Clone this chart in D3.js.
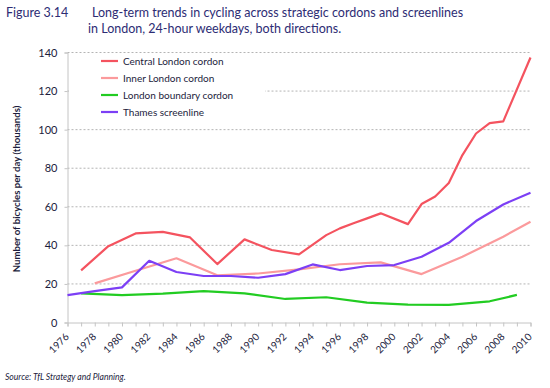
<!DOCTYPE html>
<html>
<head>
  <meta charset="utf-8">
  <script src="https://d3js.org/d3.v7.min.js"></script>
  <style>
    body { margin: 0; background: #fff; }
    text { font-family: Lato, "Open Sans", sans-serif; }
  </style>
</head>
<body>
<div id="vis"></div>

<script>
// chart data (thousands of bicycles per day)
const yearTicks = d3.range(1976, 2011, 2);
const yTicks = [0, 20, 40, 60, 80, 100, 120, 140];

const seriesNames = ["Central London cordon", "Inner London cordon", "London boundary cordon", "Thames screenline"];
const seriesColors = ["#f4535f", "#fb9a9c", "#22cc22", "#7c3ff5"];

const centralYears = [1977, 1979, 1981, 1983, 1985, 1987, 1989, 1991, 1993, 1995, 1996, 1997, 1998, 1999, 2001, 2002, 2003, 2004, 2005, 2006, 2007, 2008, 2010];
const centralValues = [27, 39.6, 46.2, 47, 44.1, 30.3, 43.1, 37.6, 35.3, 45.3, 48.8, 51.5, 54, 56.6, 51, 61.4, 65.3, 72.3, 86.8, 98, 103.4, 104.3, 137.4];

const innerYears = [1978, 1981, 1984, 1987, 1990, 1993, 1996, 1999, 2002, 2005, 2008, 2010];
const innerValues = [20.3, 26.8, 33.3, 24.5, 25.4, 27.5, 30.2, 31.2, 25.1, 34.1, 44.5, 52.2];

const boundaryYears = [1977, 1980, 1983, 1986, 1989, 1992, 1995, 1998, 2001, 2004, 2007, 2009];
const boundaryValues = [15.1, 14.2, 15, 16.3, 15.1, 12.2, 13.1, 10.3, 9.3, 9.1, 11, 14.3];

const thamesYears = [1976, 1978, 1980, 1982, 1984, 1986, 1988, 1990, 1992, 1994, 1996, 1998, 2000, 2002, 2004, 2006, 2008, 2010];
const thamesValues = [14.2, 16.3, 18.2, 32, 26.2, 24.1, 24.1, 23.2, 25.1, 30.1, 27.2, 29.3, 29.8, 34.1, 41.3, 52.6, 61.2, 67.3];

const width = 550;
const height = 388;
const titleColor = "#2d2c74";
const textColor = "#1c1c3c";

const svg = d3.select("#vis")
  .append("svg")
  .attr("width", width)
  .attr("height", height);

svg.append("rect").attr("width", width).attr("height", height).attr("fill", "#fff");

const x = d3.scaleLinear().domain([1976, 2010]).range([67.5, 530.5]);
const y = d3.scaleLinear().domain([0, 140]).range([322.5, 52.5]);

// title
svg.append("text").attr("x", 6).attr("y", 17)
  .attr("fill", titleColor).style("font-size", "12.5px")
  .text("Figure 3.14");
svg.append("text").attr("x", 92).attr("y", 17)
  .attr("fill", titleColor).style("font-size", "12.5px")
  .text("Long-term trends in cycling across strategic cordons and screenlines");
svg.append("text").attr("x", 88).attr("y", 33)
  .attr("fill", titleColor).style("font-size", "12.5px")
  .text("in London, 24-hour weekdays, both directions.");

// dotted gridlines
svg.append("g")
  .selectAll("line")
  .data(yTicks.filter(d => d > 0))
  .join("line")
  .attr("x1", x(1976)).attr("x2", x(2010))
  .attr("y1", d => y(d)).attr("y2", d => y(d))
  .attr("stroke", "#b4b4b4")
  .attr("stroke-dasharray", "2,2");

// y axis
const yAxis = svg.append("g")
  .attr("transform", `translate(${x(1976)},0)`)
  .call(d3.axisLeft(y).tickValues(yTicks).tickSize(3).tickPadding(7));
yAxis.select(".domain").attr("stroke", "#c4c4c4");
yAxis.selectAll(".tick line").attr("stroke", "#c4c4c4");
yAxis.selectAll("text").attr("fill", textColor).style("font-size", "11px")
  .style("font-family", "Lato, sans-serif");

// x axis, a tick every year, a label every two years
const xAxis = svg.append("g")
  .attr("transform", `translate(0,${y(0)})`)
  .call(d3.axisBottom(x).tickValues(d3.range(1976, 2011)).tickSize(4).tickFormat(""));
xAxis.select(".domain").attr("stroke", "#c4c4c4");
xAxis.selectAll(".tick line").attr("stroke", "#c4c4c4");

svg.append("g")
  .selectAll("text")
  .data(yearTicks)
  .join("text")
  .attr("transform", d => `translate(${x(d) + 2},${y(0) + 15}) rotate(-45)`)
  .attr("text-anchor", "end")
  .attr("fill", textColor)
  .style("font-size", "10px")
  .text(d => d);

// axis title
svg.append("text")
  .attr("transform", "translate(20,189) rotate(-90)")
  .attr("text-anchor", "middle")
  .attr("fill", textColor)
  .style("font-size", "9.6px")
  .style("font-weight", "bold")
  .text("Number of bicycles per day (thousands)");

// lines
const allSeries = [
  { years: centralYears, values: centralValues },
  { years: innerYears, values: innerValues },
  { years: boundaryYears, values: boundaryValues },
  { years: thamesYears, values: thamesValues }
];

const line = d3.line()
  .x(d => x(d[0]))
  .y(d => y(d[1]));

svg.append("g")
  .selectAll("path")
  .data(allSeries)
  .join("path")
  .attr("d", s => line(d3.zip(s.years, s.values)))
  .attr("fill", "none")
  .attr("stroke", (s, i) => seriesColors[i])
  .attr("stroke-width", 2.2)
  .attr("stroke-linejoin", "round");

// legend, white box covers the gridlines behind it
svg.append("rect")
  .attr("x", 69).attr("y", 54)
  .attr("width", 196).attr("height", 64)
  .attr("fill", "#fff");

const legend = svg.append("g")
  .selectAll("g")
  .data(seriesNames)
  .join("g")
  .attr("transform", (d, i) => `translate(101,${61 + i * 17})`);

legend.append("line")
  .attr("x1", 0).attr("x2", 17)
  .attr("stroke", (d, i) => seriesColors[i])
  .attr("stroke-width", 2.2);

legend.append("text")
  .attr("x", 22).attr("y", 3.5)
  .attr("fill", textColor)
  .style("font-size", "10px")
  .text(d => d);

// source note
svg.append("text")
  .attr("x", 5).attr("y", 380)
  .attr("fill", textColor)
  .style("font-size", "8.6px")
  .style("font-style", "italic")
  .text("Source: TfL Strategy and Planning.");
</script>
</body>
</html>
